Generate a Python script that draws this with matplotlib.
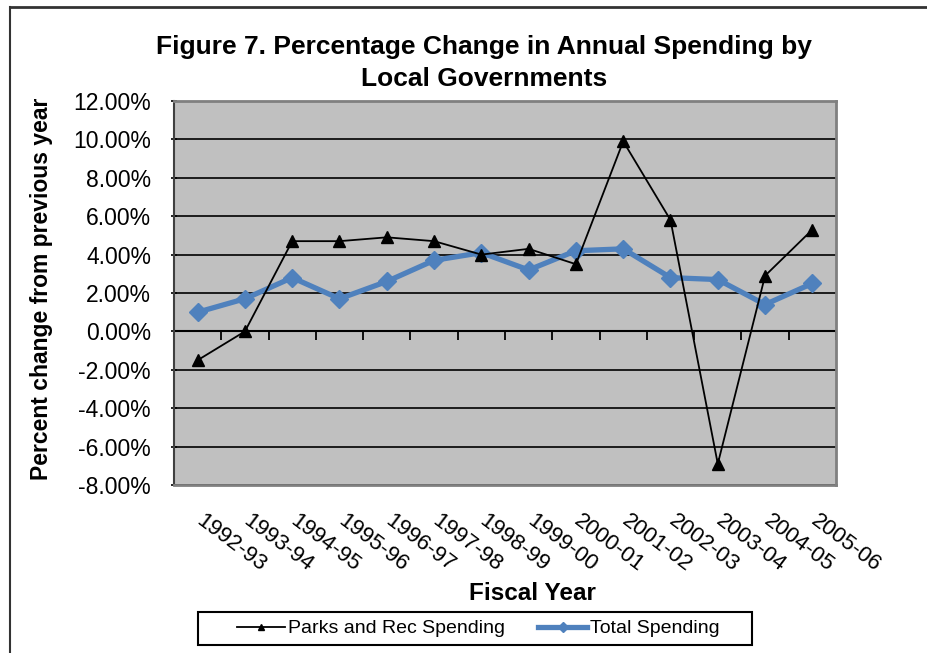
import matplotlib.pyplot as plt
from matplotlib.lines import Line2D
from matplotlib.patches import Rectangle
from matplotlib.ticker import FuncFormatter, MultipleLocator

plt.rcParams['font.family'] = ['Liberation Sans', 'DejaVu Sans']

fiscal_years = ["1992-93", "1993-94", "1994-95", "1995-96", "1996-97",
                "1997-98", "1998-99", "1999-00", "2000-01", "2001-02",
                "2002-03", "2003-04", "2004-05", "2005-06"]
parks_rec = [-1.5, 0.0, 4.7, 4.7, 4.9, 4.7, 4.0, 4.3, 3.5, 9.9, 5.8, -6.9,
             2.9, 5.3]
total = [1.0, 1.7, 2.8, 1.7, 2.6, 3.7, 4.1, 3.2, 4.2, 4.3, 2.8, 2.7, 1.4,
         2.5]

W, H = 928, 653


def fx(px):
  return px / W


def fy(py):
  return 1 - py / H


def main():
  fig = plt.figure(figsize=(9.28, 6.53), dpi=100)
  ax = fig.add_axes([fx(174), fy(485), fx(836) - fx(174), fy(101) - fy(485)])
  ax.set_facecolor("#C0C0C0")

  x = list(range(len(fiscal_years)))
  ax.plot(x, parks_rec, color="black", lw=1.3, marker="^", ms=8,
          label="Parks and Rec Spending", zorder=4)
  ax.plot(x, total, color="#4F81BD", lw=3.8, marker="D", ms=9,
          label="Total Spending", zorder=3)

  ax.set_xlim(-0.5, len(fiscal_years) - 0.5)
  ax.set_ylim(-8, 12)
  ax.yaxis.set_major_locator(MultipleLocator(2))
  ax.yaxis.set_major_formatter(FuncFormatter(lambda v, _: f"{v:.2f}%"))
  ax.grid(axis="y", color="black", lw=1.2)
  ax.set_axisbelow(True)

  # category axis crosses at zero, with short ticks between categories
  ax.axhline(0, color="black", lw=1.5, zorder=2)
  ax.vlines([i + 0.5 for i in x], -0.45, 0, color="black", lw=1.3, zorder=2)

  # slanted category labels below the plot area
  ax.set_xticks(x)
  ax.set_xticklabels([])
  ax.tick_params(axis="x", length=0)
  for i, year in zip(x, fiscal_years):
    ax.annotate(year, xy=(i, 0), xycoords=ax.get_xaxis_transform(),
                xytext=(5, -18), textcoords="offset points", fontsize=16,
                rotation=-37, ha="left", va="top", rotation_mode="anchor",
                annotation_clip=False)
  ax.tick_params(axis="y", labelsize=16.5, length=5, direction="inout",
                 pad=14, width=1.2)

  for side in ("top", "right", "bottom"):
    ax.spines[side].set_color("#808080")
    ax.spines[side].set_linewidth(2)
  ax.spines["left"].set_color("#404040")
  ax.spines["left"].set_linewidth(1.5)

  fig.text(fx(484), fy(63), "Figure 7. Percentage Change in Annual Spending by"
           "\nLocal Governments", ha="center", va="center", fontsize=19,
           fontweight="bold", linespacing=1.38)
  fig.text(fx(42), fy(289), "Percent change from previous year", rotation=90,
           ha="center", va="center", fontsize=16.5, fontweight="bold")
  fig.text(fx(532), fy(594), "Fiscal Year", ha="center", va="center",
           fontsize=17.5, fontweight="bold")

  fig.legend(loc="center", bbox_to_anchor=(fx(478), fy(628.5)), ncol=2,
             frameon=False, fontsize=14, handlelength=2.5,
             handletextpad=0.15, columnspacing=1.7, markerscale=0.6,
             borderpad=0)
  fig.add_artist(Rectangle((fx(198), fy(645)), fx(752) - fx(198),
                           fy(612) - fy(645), transform=fig.transFigure,
                           fill=False, ec="black", lw=1.5))

  # outer chart border
  fig.add_artist(Line2D([fx(10), fx(10)], [0, fy(7)],
                        transform=fig.transFigure, color="#333333", lw=1.5))
  fig.add_artist(Line2D([fx(10), 1], [fy(7), fy(7)],
                        transform=fig.transFigure, color="#333333", lw=2))

  fig.savefig("out.png", dpi=100)


if __name__ == "__main__":
  main()
